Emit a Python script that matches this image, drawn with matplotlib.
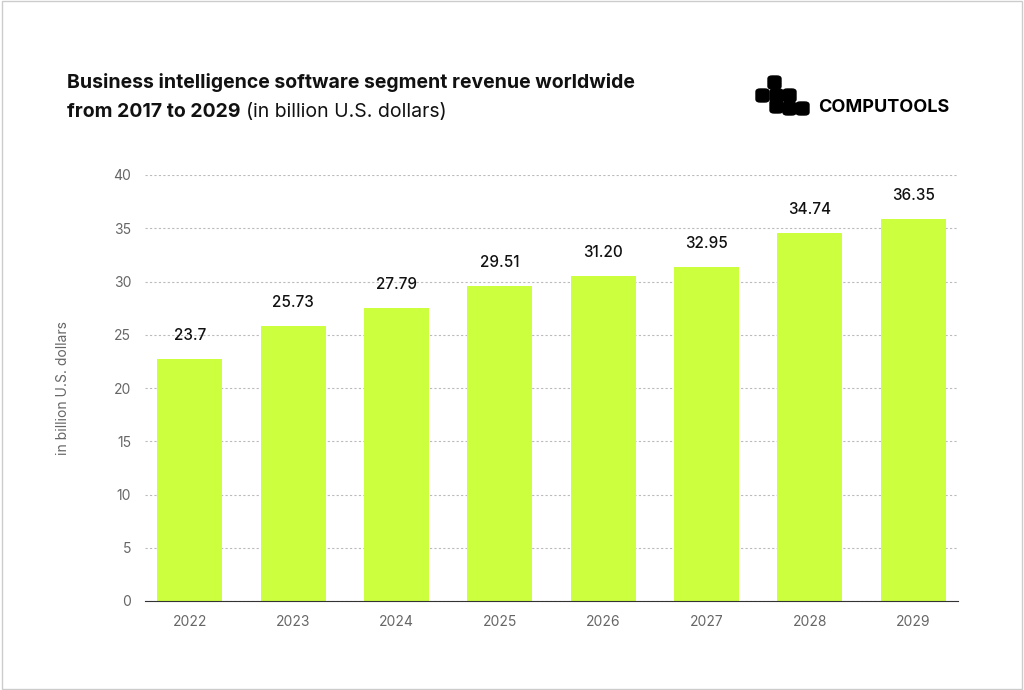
import matplotlib.pyplot as plt
from matplotlib.patches import FancyBboxPatch, Rectangle

years = ['2022', '2023', '2024', '2025', '2026', '2027', '2028', '2029']
heights = [22.7, 25.8, 27.5, 29.6, 30.5, 31.4, 34.6, 35.9]
labels = ['23.7', '25.73', '27.79', '29.51', '31.20', '32.95', '34.74', '36.35']

plt.rcParams['font.family'] = ['Inter', 'DejaVu Sans']
fig = plt.figure(figsize=(10.24, 6.9), dpi=100)
fig.patches.append(Rectangle((0.002, 0.002), 0.996, 0.996, transform=fig.transFigure,
                             fill=False, edgecolor='#cccccc', linewidth=1))

ax = fig.add_axes([145 / 1024, 89 / 690, 813 / 1024, 426 / 690])
x = range(len(years))
ax.bar(x, heights, width=0.63, color='#ccff3d', zorder=2)
for i, (h, t) in enumerate(zip(heights, labels)):
    ax.text(i, h + 1.5, t, ha='center', va='bottom', fontsize=11, fontweight='medium',
            color='#111111')
ax.set_ylim(0, 40)
ax.set_xlim(-0.435, len(years) - 0.565)
ax.set_yticks(range(0, 41, 5))
ax.set_xticks(list(x))
ax.set_xticklabels(years)
ax.yaxis.grid(True, linestyle=(0, (2, 2)), color='#bbbbbb', linewidth=0.8, zorder=0)
for s in ['top', 'right', 'left']:
    ax.spines[s].set_visible(False)
ax.spines['bottom'].set_color('#333333')
ax.tick_params(axis='both', length=0, labelsize=10, labelcolor='#666666', pad=10)
ax.set_ylabel('in billion U.S. dollars', fontsize=10, color='#666666', labelpad=12)
ax.yaxis.set_label_coords(-75 / 813, 0.5)

fig.text(67 / 1024, 1 - 82 / 690, 'Business intelligence software segment revenue worldwide',
         fontsize=14, fontweight='bold', va='center', color='#111111')
fig.text(67 / 1024, 1 - 112 / 690, 'from 2017 to 2029', fontsize=14, fontweight='bold',
         va='center', color='#111111')
fig.text(246 / 1024, 1 - 112 / 690, '(in billion U.S. dollars)', fontsize=14,
         va='center', color='#111111')

# logo blocks (pixel coords: x, y top, size)
blocks = [(768, 76), (756, 89), (770, 89), (783, 89), (783, 102), (796, 102), (770, 100)]
for bx, by in blocks:
    fig.patches.append(FancyBboxPatch((bx / 1024, 1 - (by + 13) / 690), 13 / 1024, 13 / 690,
                                      boxstyle='round,pad=0,rounding_size=0.004',
                                      transform=fig.transFigure, color='black'))
fig.text(818 / 1024, 1 - 108 / 690, 'COMPUTOOLS', fontsize=13, fontweight='bold',
         va='center', color='black')

fig.savefig('out.png', dpi=100)
